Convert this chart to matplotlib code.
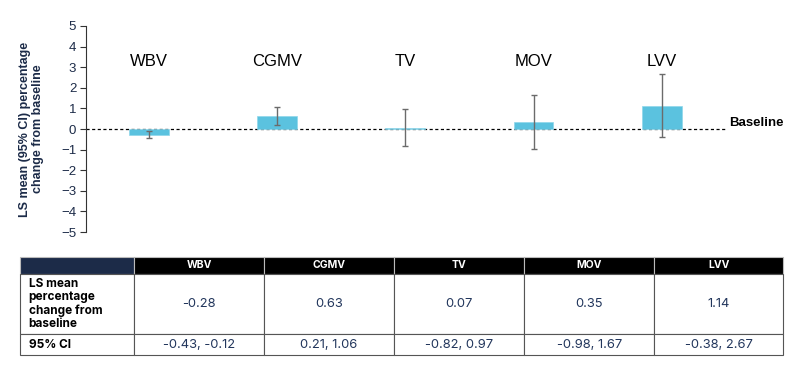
import numpy as np
import matplotlib.pyplot as plt

### Data
categories = ["WBV", "CGMV", "TV", "MOV", "LVV"]
ls_mean = [-0.28, 0.63, 0.07, 0.35, 1.14]
ci_low = [-0.43, 0.21, -0.82, -0.98, -0.38]
ci_high = [-0.12, 1.06, 0.97, 1.67, 2.67]
row_labels = ["LS mean\npercentage\nchange from\nbaseline", "95% CI"]

navy = "#1c2b48"
bar_color = "#5bc2df"

fig = plt.figure(figsize=(8, 3.66), dpi=100)

### Chart
ax = fig.add_axes([0.1075, 0.366, 0.8, 0.563])
x = np.arange(len(categories))
mean = np.array(ls_mean)
yerr = [mean - np.array(ci_low), np.array(ci_high) - mean]
ax.bar(x, mean, width=0.31, color=bar_color, edgecolor="#8fd6ea", linewidth=0.5, zorder=2)
ax.errorbar(x, mean, yerr=yerr, fmt="none", ecolor="#6b6b6b", elinewidth=1, capsize=2, capthick=1, zorder=3)
ax.axhline(0, color="black", linestyle=(0, (2.5, 2)), linewidth=0.9, zorder=1)

ax.set_xlim(-0.49, 4.5)
ax.set_ylim(-5, 5)
ax.set_yticks(np.arange(-5, 6, 1))
ax.set_xticks([])
for s in ["top", "right", "bottom"]:
    ax.spines[s].set_visible(False)
ax.spines["left"].set_color("#333333")
ax.tick_params(axis="y", length=4, width=0.8, color="#333333", labelsize=9.5, labelcolor=navy, pad=3)
for lab in ax.get_yticklabels():
    lab.set_family("Liberation Sans")

ax.set_ylabel("LS mean (95% CI) percentage\nchange from baseline", fontsize=9, fontweight="bold",
              color=navy, family="Liberation Sans", labelpad=12, linespacing=1.1)

for xi, cat in zip(x, categories):
    ax.text(xi, 3.3, cat, ha="center", va="center", fontsize=12, family="Liberation Sans", color="black")

ax.text(1.005, 0.5, "Baseline", transform=ax.transAxes, ha="left", va="bottom", fontsize=9.5,
        fontweight="bold", family="Liberation Sans", color="black")

### Table
tax = fig.add_axes([0.025, 0.030, 0.954, 0.268])
tax.axis("off")
cell_text = [[""] + categories,
             [row_labels[0]] + [f"{v:.2f}" for v in ls_mean],
             [row_labels[1]] + [f"{lo:.2f}, {hi:.2f}" for lo, hi in zip(ci_low, ci_high)]]
col_w = [114, 130, 130, 130, 130, 129]
tbl = tax.table(cellText=cell_text, colWidths=col_w, bbox=[0, 0, 1, 1], cellLoc="center")
tbl.auto_set_font_size(False)
row_h = [17, 60, 21]
for (r, c), cell in tbl.get_celld().items():
    cell.set_height(row_h[r])
    cell.set_width(col_w[c])
    cell.set_linewidth(0.8)
    cell.set_edgecolor("#555555")
    t = cell.get_text()
    t.set_family("Inter")
    t.set_fontsize(9.3)
    t.set_color("#22365c")
    if r == 0:
        cell.set_facecolor(navy if c == 0 else "black")
        cell.set_edgecolor("#bbbbbb")
        t.set_color("white")
        t.set_fontweight("bold")
        t.set_fontsize(7.5)
    elif c == 0:
        t.set_ha("left")
        cell.PAD = 0.075
        cell._loc = "left"
        t.set_fontweight("bold")
        t.set_color("black")
        t.set_fontsize(8.5)
        t.set_linespacing(1.1)

plt.savefig("out.png", dpi=100)
